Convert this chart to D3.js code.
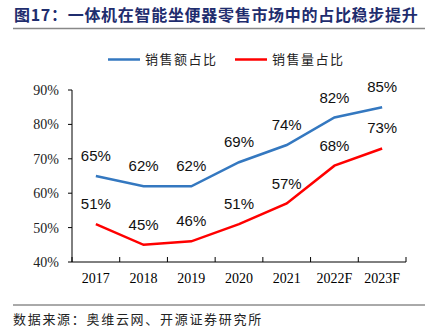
<!DOCTYPE html>
<html>
<head>
<meta charset="utf-8">
<script src="https://cdn.jsdelivr.net/npm/d3@7"></script>
<style>
  body { margin: 0; background: #fff; }
</style>
</head>
<body>
<div id="chart"></div>
<script>
const years = ["2017", "2018", "2019", "2020", "2021", "2022F", "2023F"];
const amountShare = [65, 62, 62, 69, 74, 82, 85];   // 销售额占比
const volumeShare = [51, 45, 46, 51, 57, 68, 73];   // 销售量占比
const yTicks = [40, 50, 60, 70, 80, 90];

const width = 430;
const height = 333;
const cjk = "'Noto Sans CJK SC', sans-serif";
const serif = "'Liberation Serif', 'Times New Roman', serif";

const svg = d3.select("#chart")
  .append("svg")
  .attr("width", width)
  .attr("height", height);

// title and rule under it
svg.append("text")
  .attr("x", 14)
  .attr("y", 21)
  .attr("font-family", cjk)
  .attr("font-weight", "bold")
  .attr("font-size", 16)
  .attr("letter-spacing", 0.7)
  .attr("fill", "#1f2d6e")
  .text("图17：一体机在智能坐便器零售市场中的占比稳步提升");

svg.append("line")
  .attr("x1", 13).attr("x2", 425)
  .attr("y1", 28.5).attr("y2", 28.5)
  .attr("stroke", "#888").attr("stroke-width", 1.5);

const plotL = 72, plotR = 406, plotT = 90, plotB = 262;

const x = d3.scaleBand().domain(years).range([plotL, plotR]);
const y = d3.scaleLinear().domain([40, 90]).range([plotB, plotT]);

// axes
const xAxis = svg.append("g")
  .attr("transform", `translate(0,${plotB})`);
xAxis.append("line")
  .attr("x1", plotL).attr("x2", plotR)
  .attr("stroke", "#000");
xAxis.selectAll(".tick")
  .data(d3.range(years.length + 1))
  .join("line")
  .attr("x1", i => plotL + i * x.bandwidth())
  .attr("x2", i => plotL + i * x.bandwidth())
  .attr("y1", 0).attr("y2", -5)
  .attr("stroke", "#000");
xAxis.selectAll("text")
  .data(years)
  .join("text")
  .attr("x", d => x(d) + x.bandwidth() / 2)
  .attr("y", 21)
  .attr("text-anchor", "middle")
  .attr("font-family", serif)
  .attr("font-size", 14)
  .text(d => d);

const yAxis = svg.append("g");
yAxis.append("line")
  .attr("x1", plotL).attr("x2", plotL)
  .attr("y1", plotT).attr("y2", plotB)
  .attr("stroke", "#000");
yAxis.selectAll(".tk")
  .data(yTicks)
  .join("line")
  .attr("x1", plotL - 4).attr("x2", plotL)
  .attr("y1", d => y(d)).attr("y2", d => y(d))
  .attr("stroke", "#000");
yAxis.selectAll("text")
  .data(yTicks)
  .join("text")
  .attr("x", plotL - 13)
  .attr("y", d => y(d) + 5)
  .attr("text-anchor", "end")
  .attr("font-family", serif)
  .attr("font-size", 14)
  .attr("fill", "#222")
  .text(d => d + "%");

// lines with value labels
const series = [
  { values: amountShare, color: "#3478c0" },
  { values: volumeShare, color: "#ff0000" }
];

const line = d3.line()
  .x((d, i) => x(years[i]) + x.bandwidth() / 2)
  .y(d => y(d));

series.forEach(s => {
  svg.append("path")
    .datum(s.values)
    .attr("d", line)
    .attr("fill", "none")
    .attr("stroke", s.color)
    .attr("stroke-width", 2.5);

  svg.append("g")
    .selectAll("text")
    .data(s.values)
    .join("text")
    .attr("x", (d, i) => x(years[i]) + x.bandwidth() / 2)
    .attr("y", d => y(d) - 15)
    .attr("text-anchor", "middle")
    .attr("font-family", "'Liberation Sans', Arial, sans-serif")
    .attr("font-size", 15)
    .attr("fill", "#111")
    .text(d => d + "%");
});

// legend
const legend = [
  { label: "销售额占比", color: "#3478c0", x: 108 },
  { label: "销售量占比", color: "#ff0000", x: 235 }
];
const lg = svg.append("g");
legend.forEach(l => {
  lg.append("line")
    .attr("x1", l.x).attr("x2", l.x + 32)
    .attr("y1", 59.5).attr("y2", 59.5)
    .attr("stroke", l.color).attr("stroke-width", 2.5);
  lg.append("text")
    .attr("x", l.x + 37)
    .attr("y", 64)
    .attr("font-family", cjk)
    .attr("font-size", 13)
    .attr("letter-spacing", 1.5)
    .attr("fill", "#222")
    .text(l.label);
});

// source note
svg.append("line")
  .attr("x1", 13).attr("x2", 425)
  .attr("y1", 305).attr("y2", 305)
  .attr("stroke", "#555").attr("stroke-width", 1);

svg.append("text")
  .attr("x", 13)
  .attr("y", 324)
  .attr("font-family", cjk)
  .attr("font-size", 13)
  .attr("letter-spacing", 1.7)
  .attr("fill", "#222")
  .text("数据来源：奥维云网、开源证券研究所");
</script>
</body>
</html>
